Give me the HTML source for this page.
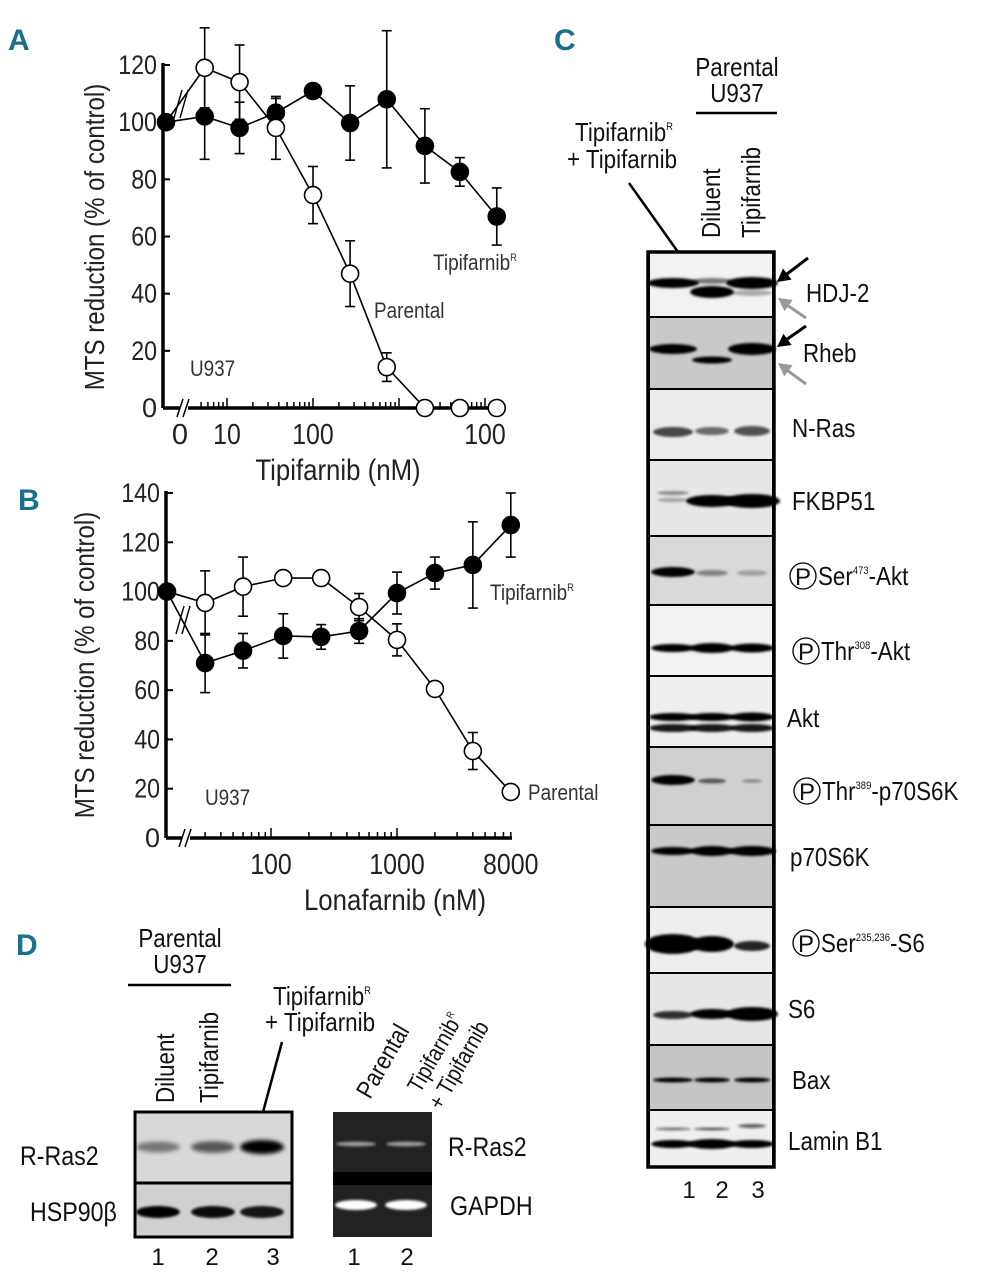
<!DOCTYPE html>
<html><head><meta charset="utf-8"><style>
html,body{margin:0;padding:0;background:#fff;}
svg{display:block;font-family:"Liberation Sans Narrow","Liberation Sans",sans-serif;}
.pl{font-family:"Liberation Sans","Liberation Sans Narrow",sans-serif;font-weight:bold;fill:#1a6e8e;font-size:30px;}
</style></head><body>
<svg id="fig" width="991" height="1280" viewBox="0 0 991 1280" xmlns="http://www.w3.org/2000/svg">
<defs>
<filter id="blur" x="-30%" y="-100%" width="160%" height="300%"><feGaussianBlur stdDeviation="2.2"/></filter>
<filter id="blur2" x="-30%" y="-100%" width="160%" height="300%"><feGaussianBlur stdDeviation="1.4"/></filter>
</defs>
<text class="pl" x="8" y="50">A</text>
<text class="pl" x="18" y="510">B</text>
<text class="pl" x="554" y="50">C</text>
<text class="pl" x="16" y="955">D</text>
<g id="chartA"></g>
<g id="chartB"></g>
<g id="blotC"></g>
<g id="blotD"></g>
</svg>
<script>
// ---------- Panel A data ----------
const dosesA = [5.5, 14, 37, 100, 270, 720, 2000, 5100, 13700];
const parentalA = [119, 114, 98, 74.5, 47, 14.3, 0, 0, 0];
const parentalErrA = [14, 13, 11, 10, 11.5, 5, 0, 0, 0];
const resistantA = [102, 98, 103.3, 110.9, 99.7, 108, 91.7, 82.6, 67];
const resistantErrA = [15, 9, 5, 0, 13, 24, 13, 5, 10];
const controlA = 100;
const yTicksA = [0, 20, 40, 60, 80, 100, 120];
const xTickLabelsA = ["10", "100", "100"];
const xTickValsA = [10, 100, 10000];
// ---------- Panel B data ----------
const dosesB = [30, 60, 125, 250, 500, 1000, 2000, 4000, 8000];
const parentalB = [95.4, 102, 105.5, 105.5, 93.7, 80.4, 60.5, 35.3, 18.7];
const parentalErrB = [13, 12, 2, 0, 5.5, 6.5, 0, 7.5, 0];
const resistantB = [71, 76, 82, 81.6, 84, 99.4, 107.5, 110.8, 127];
const resistantErrB = [12, 7, 9, 5, 5, 8.5, 6.5, 17.5, 13];
const controlB = 100;
const yTicksB = [0, 20, 40, 60, 80, 100, 120, 140];
const xTickLabelsB = ["100", "1000", "8000"];
const xTickValsB = [100, 1000, 8000];

const NS = "http://www.w3.org/2000/svg";
function mk(parent, tag, attrs, text) {
  const e = document.createElementNS(NS, tag);
  for (const k in attrs) e.setAttribute(k, attrs[k]);
  if (text !== undefined) e.textContent = text;
  parent.appendChild(e);
  return e;
}

function drawChart(g, cfg) {
  const yS = v => cfg.y0 - (v - 0) * (cfg.y0 - cfg.yTop) / cfg.yMax;
  const xS = v => cfg.xRef + cfg.dec * Math.log10(v / cfg.vRef);
  let a = mk(g, "line", {x1: cfg.ax, y1: yS(cfg.yMax) - 2, x2: cfg.ax, y2: cfg.y0, stroke: "#000", "stroke-width": 3.5});
  
  
  a = mk(g, "line", {x1: cfg.ax, y1: cfg.y0, x2: cfg.xEnd, y2: cfg.y0, stroke: "#000", "stroke-width": 3.5});
  
  
  cfg.yTicks.forEach(v => {
    mk(g, "line", {x1: cfg.ax, y1: yS(v), x2: cfg.ax + 7, y2: yS(v), stroke: "#000", "stroke-width": 2});
    const t = mk(g, "text", {x: cfg.ax - 6, y: yS(v) + 9, "text-anchor": "end", "font-size": 27, fill: "#222"}, String(v));
    
    
  });
  for (let d = cfg.minDec; d <= cfg.maxDec; d++) {
    for (let m = 1; m < 10; m++) {
      const v = m * Math.pow(10, d);
      const x = xS(v);
      if (x < cfg.ax + 30 || x > cfg.xEnd) continue;
      mk(g, "line", {x1: x, y1: cfg.y0, x2: x, y2: cfg.y0 - (m === 1 ? 10 : 6), stroke: "#000", "stroke-width": 1.5});
    }
  }
  cfg.xTickVals.forEach((v, i) => {
    const t = mk(g, "text", {x: xS(v), y: cfg.y0 + 36, "text-anchor": "middle", "font-size": 29, fill: "#222"}, cfg.xTickLabels[i]);
    
    
  });
  mk(g, "rect", {x: cfg.brk - 4, y: cfg.y0 - 3, width: 8, height: 6, fill: "#fff"});
  mk(g, "line", {x1: cfg.brk - 7, y1: cfg.y0 + 9, x2: cfg.brk - 1, y2: cfg.y0 - 9, stroke: "#000", "stroke-width": 1.5});
  mk(g, "line", {x1: cfg.brk - 1, y1: cfg.y0 + 9, x2: cfg.brk + 5, y2: cfg.y0 - 9, stroke: "#000", "stroke-width": 1.5});
  const series = [
    {vals: cfg.res, err: cfg.resErr, fill: "#000", name: "tipifarnib-resistant"},
    {vals: cfg.par, err: cfg.parErr, fill: "#fff", name: "parental"}
  ];
  series.forEach(s => {
    const pts = [[cfg.ctrlX, yS(cfg.ctrl)]].concat(cfg.doses.map((d, i) => [xS(d), yS(s.vals[i])]));
    cfg.doses.forEach((d, i) => {
      const e = s.err[i];
      if (!e) return;
      const x = xS(d);
      const y1 = yS(s.vals[i] + e), y2 = yS(Math.max(0, s.vals[i] - e));
      mk(g, "line", {x1: x, y1: y1, x2: x, y2: y2, stroke: "#000", "stroke-width": 1.6});
      mk(g, "line", {x1: x - 5, y1: y1, x2: x + 5, y2: y1, stroke: "#000", "stroke-width": 1.6});
      mk(g, "line", {x1: x - 5, y1: y2, x2: x + 5, y2: y2, stroke: "#000", "stroke-width": 1.6});
    });
    const ln = mk(g, "polyline", {points: pts.map(p => p.join(",")).join(" "), fill: "none", stroke: "#000", "stroke-width": 1.6});
    
    
    s.pts = pts;
  });
  mk(g, "line", {x1: cfg.lbrk - 6, y1: cfg.lbrkY + 14, x2: cfg.lbrk + 2, y2: cfg.lbrkY - 14, stroke: "#000", "stroke-width": 1.4});
  mk(g, "line", {x1: cfg.lbrk, y1: cfg.lbrkY + 14, x2: cfg.lbrk + 8, y2: cfg.lbrkY - 14, stroke: "#000", "stroke-width": 1.4});
  series.forEach(s => {
    s.pts.forEach((p, i) => {
      if (i === 0 && s.fill === "#fff") return;
      const c = mk(g, "circle", {cx: p[0], cy: p[1], r: 8.5, fill: s.fill, stroke: "#000", "stroke-width": 1.6});
      
      
    });
  });
  let t = mk(g, "text", {x: cfg.titleX, y: cfg.y0 + 72, "text-anchor": "middle", "font-size": 30, fill: "#222"}, cfg.xTitle);
  
  
  t = mk(g, "text", {x: 0, y: 0, "text-anchor": "middle", "font-size": 28, fill: "#222", transform: `translate(${cfg.ytX},${cfg.ytY}) rotate(-90)`}, "MTS reduction (% of control)");
  
  
  cfg.notes.forEach(n => {
    const tt = mk(g, "text", {x: n[0], y: n[1], "font-size": 22, fill: "#333"}, n[2]);
    if (n[3]) mk(tt, "tspan", {"font-size": 11, dy: -9}, n[3]);
    
    
  });
}

drawChart(document.getElementById("chartA"), {
  ax: 163, y0: 408, yTop: 65, yMax: 120, xEnd: 506, xRef: 227, vRef: 10, dec: 86,
  minDec: 0, maxDec: 4, brk: 184, ctrlX: 166, ctrl: controlA, lbrk: 180, lbrkY: 104,
  doses: dosesA, par: parentalA, parErr: parentalErrA, res: resistantA, resErr: resistantErrA,
  yTicks: yTicksA, xTickVals: xTickValsA, xTickLabels: xTickLabelsA,
  xTitle: "Tipifarnib (nM)", titleX: 338, ytX: 104, ytY: 237,
  notes: [[433, 270, "Tipifarnib", "R"], [374, 318, "Parental"], [190, 376, "U937"]]
});
document.querySelector("#chartA").insertAdjacentHTML("beforeend", '<text x="180" y="444" text-anchor="middle" font-size="29" fill="#222">0</text>');
drawChart(document.getElementById("chartB"), {
  ax: 166, y0: 838, yTop: 493, yMax: 140, xEnd: 512, xRef: 271, vRef: 100, dec: 126,
  minDec: 1, maxDec: 3, brk: 186, ctrlX: 167, ctrl: controlB, lbrk: 182, lbrkY: 620,
  doses: dosesB, par: parentalB, parErr: parentalErrB, res: resistantB, resErr: resistantErrB,
  yTicks: yTicksB, xTickVals: xTickValsB, xTickLabels: xTickLabelsB,
  xTitle: "Lonafarnib (nM)", titleX: 395, ytX: 94, ytY: 665,
  notes: [[490, 600, "Tipifarnib", "R"], [528, 800, "Parental"], [205, 805, "U937"]]
});

// ---------- Panel C blot ----------
const lanesC = [673, 712, 752];
const blotPanels = [
  {name: "HDJ-2", y0: 252, y1: 317, bg: "#f2f2f2", bands: [[0, 283, 26, 5, 1], [1, 281, 20, 3, 0.5], [1, 292, 22, 6, 1], [2, 283, 26, 6, 1], [2, 293, 20, 3, 0.3]]},
  {name: "Rheb", y0: 317, y1: 389, bg: "#c9c9c9", bands: [[0, 349, 24, 5, 1], [1, 360, 20, 3.5, 1], [2, 349, 24, 6, 1]]},
  {name: "N-Ras", y0: 389, y1: 460, bg: "#ececec", bands: [[0, 432, 20, 5, 0.7], [1, 431, 17, 4, 0.55], [2, 431, 18, 5, 0.65]]},
  {name: "FKBP51", y0: 460, y1: 536, bg: "#e7e7e7", bands: [[0, 493, 16, 2, 0.4], [0, 500, 16, 2, 0.3], [1, 501, 26, 6, 1], [2, 501, 28, 7, 1]]},
  {name: "Ser473", y0: 536, y1: 605, bg: "#d9d9d9", bands: [[0, 572, 22, 5, 1], [1, 573, 16, 3, 0.4], [2, 573, 15, 3, 0.25]]},
  {name: "Thr308", y0: 605, y1: 676, bg: "#f2f2f2", bands: [[0, 648, 22, 4, 1], [1, 648, 22, 5, 1], [2, 648, 22, 4.5, 1]]},
  {name: "Akt", y0: 676, y1: 747, bg: "#efefef", bands: [[0, 717, 24, 4, 1], [0, 728, 24, 4, 0.9], [1, 717, 23, 4, 1], [1, 728, 23, 4, 0.9], [2, 717, 22, 4.5, 1], [2, 728, 22, 4, 0.9]]},
  {name: "Thr389", y0: 747, y1: 825, bg: "#d0d0d0", bands: [[0, 780, 22, 5, 1], [1, 781, 14, 2.5, 0.6], [2, 781, 10, 1.8, 0.35]]},
  {name: "p70S6K", y0: 825, y1: 907, bg: "#c9c9c9", bands: [[0, 851, 22, 4, 1], [1, 851, 22, 5, 1], [2, 851, 24, 5, 1]]},
  {name: "Ser235", y0: 907, y1: 973, bg: "#eeeeee", bands: [[0, 944, 28, 10, 1], [1, 944, 22, 8, 1], [2, 946, 18, 5, 0.85]]},
  {name: "S6", y0: 973, y1: 1045, bg: "#e6e6e6", bands: [[0, 1015, 20, 4, 0.8], [1, 1014, 22, 5, 1], [2, 1014, 26, 7, 1]]},
  {name: "Bax", y0: 1045, y1: 1110, bg: "#c5c5c5", bands: [[0, 1080, 20, 2.5, 1], [1, 1080, 18, 2.5, 1], [2, 1080, 18, 2.5, 1]]},
  {name: "Lamin B1", y0: 1110, y1: 1167, bg: "#efefef", bands: [[0, 1129, 18, 1.5, 0.5], [1, 1129, 18, 1.5, 0.6], [2, 1126, 14, 2, 0.6], [0, 1144, 22, 4, 1], [1, 1144, 24, 5, 1], [2, 1144, 22, 4, 1]]}
];
const labelsC = [
  ["HDJ-2", 806, 302, false], ["Rheb", 803, 362, false], ["N-Ras", 792, 437, false], ["FKBP51", 792, 510, false],
  ["Ser", 818, 585, true, "473", "-Akt"], ["Thr", 821, 660, true, "308", "-Akt"], ["Akt", 787, 727, false],
  ["Thr", 822, 800, true, "389", "-p70S6K"], ["p70S6K", 790, 866, false], ["Ser", 821, 952, true, "235,236", "-S6"],
  ["S6", 788, 1018, false], ["Bax", 792, 1089, false], ["Lamin B1", 788, 1150, false]
];
(function () {
  const g = document.getElementById("blotC");
  blotPanels.forEach(p => {
    const r = mk(g, "rect", {x: 649, y: p.y0, width: 124, height: p.y1 - p.y0, fill: p.bg, stroke: "#000", "stroke-width": 2});
    
    
    p.bands.forEach(b => {
      const e = mk(g, "ellipse", {cx: lanesC[b[0]], cy: b[1], rx: b[2], ry: b[3], fill: "#000", opacity: b[4], filter: "url(#blur2)"});
      
      
    });
  });
  mk(g, "rect", {x: 648, y: 252, width: 126, height: 915, fill: "none", stroke: "#000", "stroke-width": 3.5});
  labelsC.forEach(l => {
    let x = l[1];
    if (l[3]) {
      mk(g, "circle", {cx: x - 15, cy: l[2] - 9, r: 13, fill: "none", stroke: "#000", "stroke-width": 1.3});
      mk(g, "text", {x: x - 15, y: l[2], "text-anchor": "middle", "font-size": 24, fill: "#111"}, "P");
    }
    const t = mk(g, "text", {x: x, y: l[2], "font-size": 26, fill: "#111"}, l[0]);
    if (l[3]) { mk(t, "tspan", {"font-size": 11, dy: -11}, l[4]); mk(t, "tspan", {dy: 11}, l[5]); }
    
    
  });
  const arr = [[808, 258, 777, 282, "#000"], [806, 318, 778, 298, "#999"], [806, 326, 777, 347, "#000"], [806, 384, 778, 363, "#999"]];
  arr.forEach(a => {
    mk(g, "line", {x1: a[0], y1: a[1], x2: a[2] + 6, y2: a[3] + (a[1] < a[3] ? -5 : 5), stroke: a[4], "stroke-width": 3});
    const ang = Math.atan2(a[3] - a[1], a[2] - a[0]);
    const L = 13, W = 7;
    const bx = a[2] - L * Math.cos(ang), by = a[3] - L * Math.sin(ang);
    const px = -Math.sin(ang) * W, py = Math.cos(ang) * W;
    const h = mk(g, "polygon", {points: `${a[2]},${a[3]} ${bx + px},${by + py} ${bx - px},${by - py}`, fill: a[4]});
    
    
  });
  g.insertAdjacentHTML("beforeend",
    '<text x="737" y="76" text-anchor="middle" font-size="26" fill="#111">Parental</text>' +
    '<text x="737" y="102" text-anchor="middle" font-size="26" fill="#111">U937</text>' +
    '<line x1="696" y1="113" x2="777" y2="113" stroke="#000" stroke-width="2.5"/>' +
    '<text x="624" y="141" text-anchor="middle" font-size="26" fill="#111">Tipifarnib<tspan font-size="11" dy="-11">R</tspan></text>' +
    '<text x="622" y="168" text-anchor="middle" font-size="26" fill="#111">+ Tipifarnib</text>' +
    '<line x1="629" y1="183" x2="678" y2="252" stroke="#000" stroke-width="2.5"/>' +
    '<text transform="translate(720,238) rotate(-90)" font-size="26" fill="#111">Diluent</text>' +
    '<text transform="translate(760,238) rotate(-90)" font-size="26" fill="#111">Tipifarnib</text>' +
    '<text x="689" y="1198" text-anchor="middle" font-size="24" fill="#111">1</text>' +
    '<text x="722" y="1198" text-anchor="middle" font-size="24" fill="#111">2</text>' +
    '<text x="758" y="1198" text-anchor="middle" font-size="24" fill="#111">3</text>');
})();

// ---------- Panel D ----------
const lanesD = [158, 213, 262];
const rras2 = [0.45, 0.6, 1];
const hsp90 = [1, 0.95, 0.9];
const lanesGel = [356, 406];
(function () {
  const g = document.getElementById("blotD");
  mk(g, "rect", {x: 135, y: 1112, width: 157, height: 71, fill: "#d8d8d8"});
  mk(g, "rect", {x: 135, y: 1183, width: 157, height: 54, fill: "#d0d0d0"});
  lanesD.forEach((x, i) => {
    let e = mk(g, "ellipse", {cx: x, cy: 1147, rx: 22, ry: 4 + 3 * rras2[i], fill: "#000", opacity: rras2[i], filter: "url(#blur)"});
    
    
    e = mk(g, "ellipse", {cx: x, cy: 1212, rx: 22, ry: 6, fill: "#000", opacity: hsp90[i], filter: "url(#blur2)"});
    
    
  });
  mk(g, "rect", {x: 135, y: 1112, width: 157, height: 125, fill: "none", stroke: "#000", "stroke-width": 3});
  mk(g, "line", {x1: 135, y1: 1183, x2: 292, y2: 1183, stroke: "#000", "stroke-width": 3});
  mk(g, "rect", {x: 333, y: 1112, width: 99, height: 125, fill: "#222"});
  mk(g, "rect", {x: 333, y: 1172, width: 99, height: 13, fill: "#000"});
  lanesGel.forEach(x => {
    mk(g, "ellipse", {cx: x, cy: 1144, rx: 20, ry: 2.5, fill: "#9a9a9a", filter: "url(#blur2)"});
    const e = mk(g, "ellipse", {cx: x, cy: 1205, rx: 21, ry: 5, fill: "#fff", filter: "url(#blur2)"});
    
    
  });
  g.insertAdjacentHTML("beforeend",
    '<text x="180" y="947" text-anchor="middle" font-size="26" fill="#111">Parental</text>' +
    '<text x="180" y="973" text-anchor="middle" font-size="26" fill="#111">U937</text>' +
    '<line x1="128" y1="985" x2="231" y2="985" stroke="#000" stroke-width="2.5"/>' +
    '<text x="322" y="1005" text-anchor="middle" font-size="26" fill="#111">Tipifarnib<tspan font-size="11" dy="-11">R</tspan></text>' +
    '<text x="320" y="1031" text-anchor="middle" font-size="26" fill="#111">+ Tipifarnib</text>' +
    '<line x1="282" y1="1042" x2="263" y2="1112" stroke="#000" stroke-width="2.5"/>' +
    '<text transform="translate(174,1103) rotate(-90)" font-size="26" fill="#111">Diluent</text>' +
    '<text transform="translate(218,1103) rotate(-90)" font-size="26" fill="#111">Tipifarnib</text>' +
    '<text x="20" y="1165" font-size="27" fill="#111">R-Ras2</text>' +
    '<text x="30" y="1221" font-size="27" fill="#111">HSP90β</text>' +
    '<text x="158" y="1265" text-anchor="middle" font-size="24" fill="#111">1</text>' +
    '<text x="212" y="1265" text-anchor="middle" font-size="24" fill="#111">2</text>' +
    '<text x="273" y="1265" text-anchor="middle" font-size="24" fill="#111">3</text>' +
    '<text transform="translate(370,1100) rotate(-60)" font-size="25" fill="#111">Parental</text>' +
    '<text transform="translate(420,1094) rotate(-60)" font-size="23" fill="#111">Tipifarnib<tspan font-size="10" dy="-10">R</tspan></text>' +
    '<text transform="translate(441,1111) rotate(-60)" font-size="23" fill="#111">+ Tipifarnib</text>' +
    '<text x="448" y="1156" font-size="27" fill="#111">R-Ras2</text>' +
    '<text x="450" y="1215" font-size="27" fill="#111">GAPDH</text>' +
    '<text x="354" y="1265" text-anchor="middle" font-size="24" fill="#111">1</text>' +
    '<text x="407" y="1265" text-anchor="middle" font-size="24" fill="#111">2</text>');
})();

// condense text to mimic narrow typeface
document.querySelectorAll("#fig text").forEach(t => {
  if (t.classList.contains("pl")) return;
  if (t.textContent.length < 2) return;
  const len = t.getComputedTextLength();
  if (len > 0) {
    t.setAttribute("textLength", (len * 0.86).toFixed(1));
    t.setAttribute("lengthAdjust", "spacingAndGlyphs");
  }
});
</script>
</body></html>
